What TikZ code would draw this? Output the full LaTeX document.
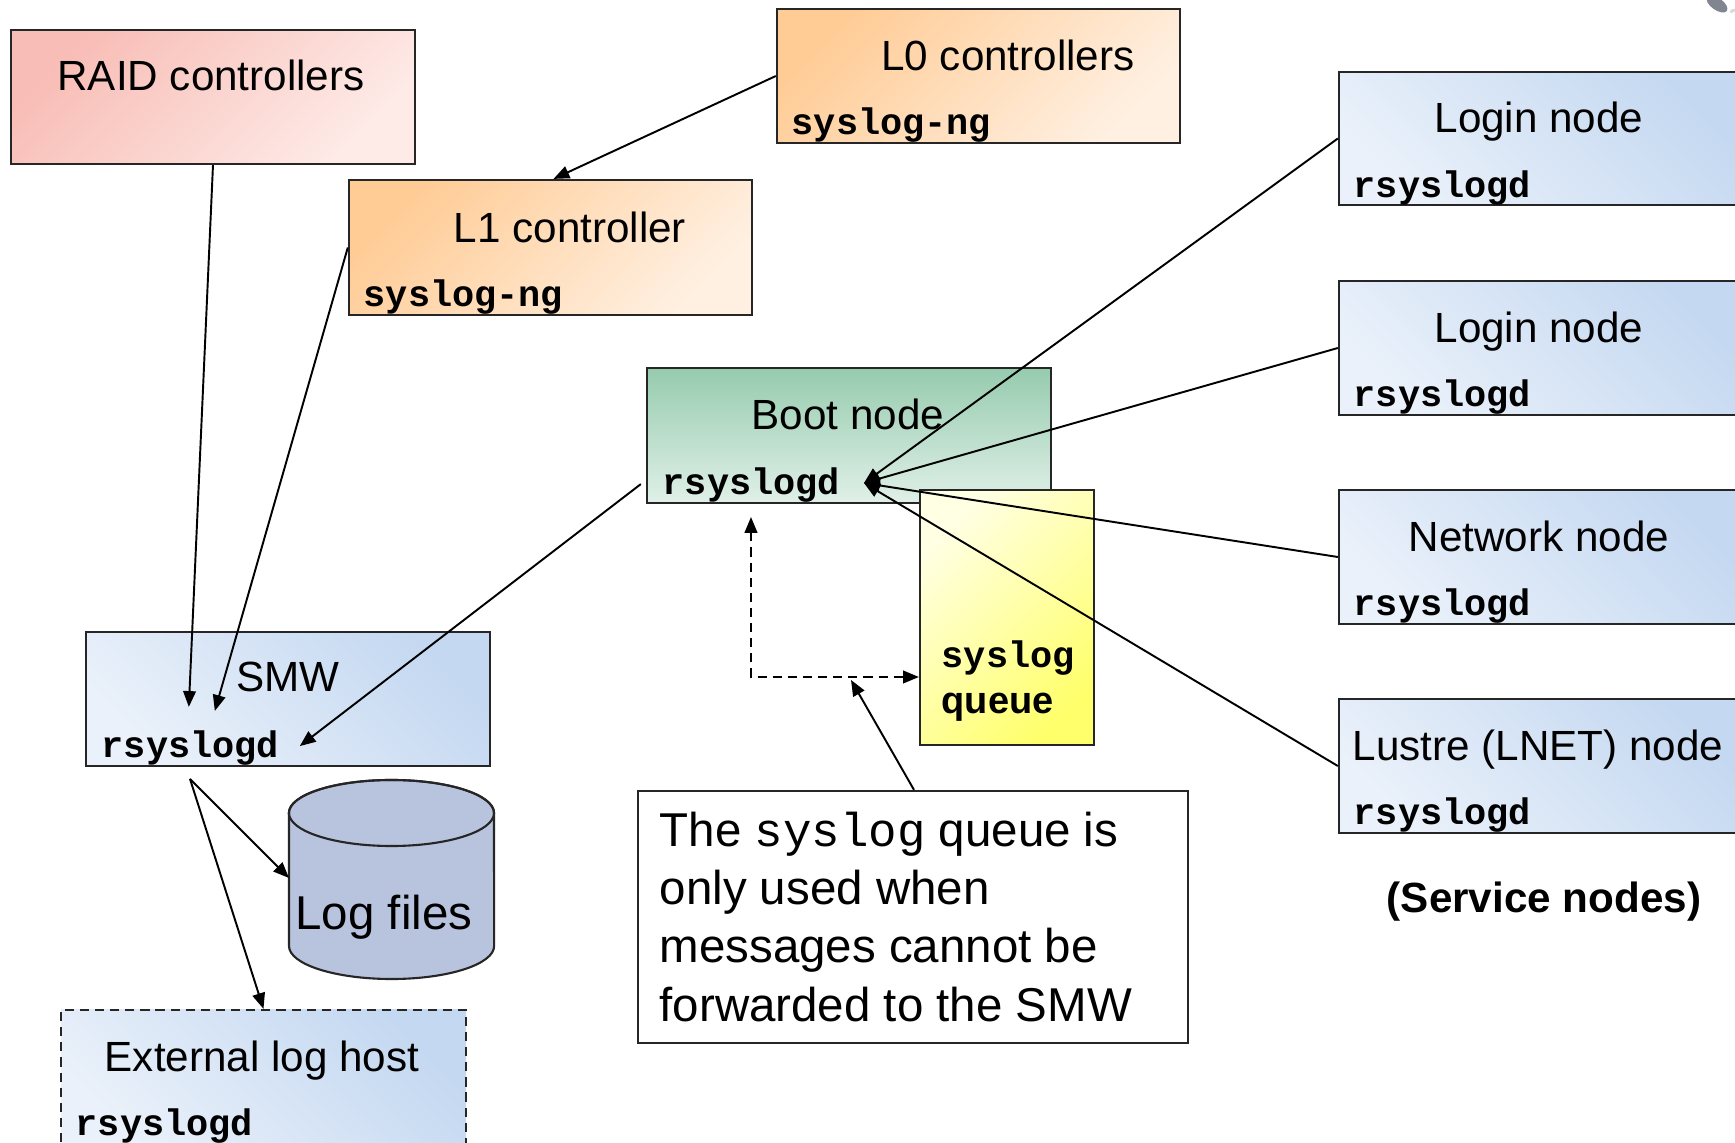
\documentclass[tikz,border=0pt]{standalone}
\usepackage{fontspec}
\setmainfont{Liberation Sans}
\newfontfamily\mono{Liberation Mono}
\usetikzlibrary{arrows.meta,calc}
\definecolor{bluedark}{HTML}{C4D8F1}
\definecolor{bluelight}{HTML}{EAF1FA}
\definecolor{raiddark}{HTML}{F8BDB6}
\definecolor{raidlight}{HTML}{FEEBE8}
\definecolor{orangedark}{HTML}{FFCC96}
\definecolor{orangelight}{HTML}{FFF0E2}
\definecolor{greendark}{HTML}{96CBAE}
\definecolor{greenlight}{HTML}{E0F0E8}
\definecolor{yellowlight}{HTML}{FFFFE4}
\definecolor{yellowdark}{HTML}{FFFF6C}
\definecolor{cylfill}{HTML}{B8C3DE}
\definecolor{logo}{HTML}{80858F}
\begin{document}
\begin{tikzpicture}[x=0.01cm,y=-0.01cm,
  box/.style={draw=black!85, line width=0.6pt, inner sep=0pt},
  raidbox/.style={box, top color=raiddark, bottom color=raidlight, shading angle=45},
  orangebox/.style={box, top color=orangedark, bottom color=orangelight, shading angle=45},
  greenbox/.style={box, top color=greendark, bottom color=greenlight},
  yellowbox/.style={box, top color=yellowlight, bottom color=yellowdark, shading angle=45},
  bluebox/.style={box, top color=bluedark, bottom color=bluelight, shading angle=-45},
  title/.style={anchor=base, inner sep=0pt, font=\fontsize{12}{14}\selectfont},
  daemon/.style={anchor=base west, inner sep=0pt, font=\mono\bfseries\fontsize{10.5}{12}\selectfont},
  conn/.style={line width=0.55pt, -{Triangle[length=4.5pt,width=3.6pt]}},
  dashline/.style={line width=0.55pt, dash pattern=on 2.6pt off 1.7pt},
]
\useasboundingbox (0,0) rectangle (1735,1143);
\fill[white] (0,0) rectangle (1735,1143);
\clip (0,0) rectangle (1735,1143);

% logo fragment
\fill[logo, rotate around={-35:(1717,4)}] (1717,4) ellipse (0.12cm and 0.06cm);
\draw[black!15, line width=0.8pt] (1735,10) arc (90:150:0.05cm);

% boxes
\node[raidbox, minimum width=4.04cm, minimum height=1.34cm] (raid) at (213,97) {};
\node[title] (raidt) at (211,91) {RAID controllers};

\node[orangebox, minimum width=4.03cm, minimum height=1.34cm] (l0) at (978.5,76) {};
\node[title] (l0t) at (1008,71) {L0 controllers};
\node[daemon] (l0d) at (791,135) {syslog-ng};

\node[orangebox, minimum width=4.03cm, minimum height=1.35cm] (l1) at (550.5,247.5) {};
\node[title] (l1t) at (570,243) {L1 controller};
\node[daemon] (l1d) at (363,307) {syslog-ng};

\node[greenbox, minimum width=4.04cm, minimum height=1.35cm] (boot) at (849,435.5) {};
\node[title] (boott) at (848,430) {Boot node};
\node[daemon] (bootd) at (662,495) {rsyslogd};

\node[yellowbox, minimum width=1.74cm, minimum height=2.55cm] (queue) at (1007,617.5) {};
\node[daemon] (queuea) at (941,668) {syslog};
\node[anchor=base west, inner sep=0pt, font=\bfseries\fontsize{10.8}{12}\selectfont] (queueb) at (941,714) {queue};

\node[bluebox, minimum width=4.04cm, minimum height=1.34cm] (smw) at (288,699) {};
\node[title] (smwt) at (288,692) {SMW};
\node[daemon] (smwd) at (101,758) {rsyslogd};

\node[bluebox, dash pattern=on 2.6pt off 1.7pt, minimum width=4.05cm, minimum height=1.40cm] (ext) at (263.5,1080) {};
\node[title] (extt) at (262,1072) {External log host};
\node[daemon] (extd) at (75,1136) {rsyslogd};

\node[bluebox, minimum width=4.06cm, minimum height=1.33cm] (login1) at (1542,138.5) {};
\node[title] (login1t) at (1539,133) {Login node};
\node[daemon] (login1d) at (1353,198) {rsyslogd};

\node[bluebox, minimum width=4.06cm, minimum height=1.34cm] (login2) at (1542,348) {};
\node[title] (login2t) at (1539,343) {Login node};
\node[daemon] (login2d) at (1353,407) {rsyslogd};

\node[bluebox, minimum width=4.06cm, minimum height=1.34cm] (net) at (1542,557) {};
\node[title] (nett) at (1539,552) {Network node};
\node[daemon] (netd) at (1353,616) {rsyslogd};

\node[bluebox, minimum width=4.06cm, minimum height=1.34cm] (lustre) at (1542,766) {};
\node[title, anchor=base west] (lustret) at (1352,761) {Lustre (LNET) node};
\node[daemon] (lustred) at (1353,825) {rsyslogd};

\node[anchor=base, inner sep=0pt, font=\bfseries\fontsize{12}{14}\selectfont] (service) at (1544,913) {(Service nodes)};

% log files cylinder
\filldraw[fill=cylfill, draw=black!85, line width=0.6pt]
  (289,813) -- (289,946) arc (180:360:1.025cm and 0.33cm) -- (494,813)
  arc (0:180:1.025cm and 0.33cm) -- cycle;
\draw[black!85, line width=0.6pt] (391.5,813) ellipse (1.025cm and 0.33cm);
\node[anchor=base, inner sep=0pt, font=\fontsize{13.5}{16}\selectfont] (logfiles) at (384,930) {Log files};
\coordinate (login) at (289,878);

% note
\node[box, minimum width=5.5cm, minimum height=2.52cm] (note) at (913,917) {};
\node[anchor=north west, inner sep=0pt, align=left, font=\fontsize{13.5}{16.6}\selectfont] (notet) at (659,811)
  {The {\mono syslog} queue is\\only used when\\messages cannot be\\forwarded to the SMW};

% connectors
\draw[conn] (l0.west) -- ($(l1.north)+(3,0)$);
\draw[conn] (raid.south) -- ($(smw.north west)+(104,76)$);
\draw[conn] (l1.west) -- ($(smw.north west)+(130,80)$);
\draw[conn] ($(boot.south west)+(-5,-20)$) -- ($(smw.south west)+(215,-21)$);

\coordinate (hub) at (864,483);
\draw[conn] (login1.west) -- (hub);
\draw[conn] (login2.west) -- (hub);
\draw[conn] (net.west) -- (hub);
\draw[conn] (lustre.west) -- (hub);

\coordinate (smwout) at (190,779);
\draw[conn] (smwout) -- (login);
\draw[conn] (smwout) -- (ext.north);

\coordinate (dtop) at (751,517);
\coordinate (dcorner) at (751,677);
\draw[dashline, {Triangle[length=4.5pt,width=3.6pt]}-{Triangle[length=4.5pt,width=3.6pt]}]
  (dtop) -- (dcorner) -- (dcorner -| queue.west);
\coordinate (dmid) at (851,680);
\draw[conn] ($(note.north)+(1,0)$) -- (dmid);
\end{tikzpicture}
\end{document}
